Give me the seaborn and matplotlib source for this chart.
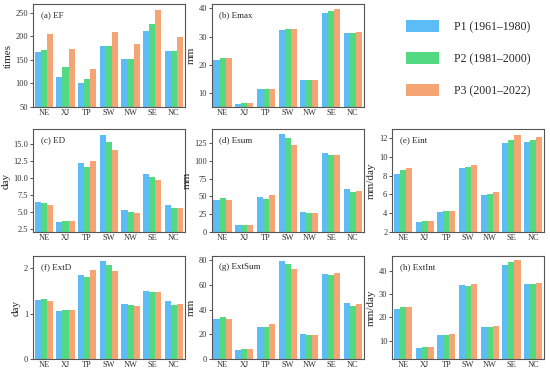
import pandas as pd
import seaborn as sns
import matplotlib.pyplot as plt
from matplotlib.patches import Patch

regions = ["NE", "XJ", "TP", "SW", "NW", "SE", "NC"]
periods = ["P1 (1961\u20131980)", "P2 (1981\u20132000)", "P3 (2001\u20132022)"]
colors = ["#5cbcf6", "#52d981", "#f5a474"]

# values per index: [P1, P2, P3] for each region
ef = [[166, 171, 204], [114, 135, 172], [101, 110, 130], [179, 180, 209],
      [151, 151, 184], [212, 226, 256], [169, 168, 198]]
emax = [[21.7, 22.5, 22.5], [6.2, 6.6, 6.6], [11.5, 11.5, 11.7], [32.3, 32.6, 32.6],
        [14.6, 14.6, 14.8], [38.5, 39.2, 39.6], [31.4, 31.4, 31.6]]
ed = [[6.5, 6.4, 6.1], [3.6, 3.8, 3.7], [12.3, 11.7, 12.55], [16.4, 15.4, 14.2],
      [5.3, 5.1, 4.85], [10.6, 10.2, 9.7], [6.15, 5.6, 5.6]]
esum = [[45.2, 47.1, 45.2], [9.3, 10.3, 10.3], [49, 47, 51.3], [138, 132.5, 122.7],
        [27.5, 26.6, 26.6], [111, 108.2, 108.2], [61, 56.4, 58.3]]
eint = [[8.15, 8.55, 8.75], [3.06, 3.13, 3.2], [4.16, 4.2, 4.2], [8.82, 8.93, 9.14],
        [5.93, 6.03, 6.28], [11.47, 11.82, 12.28], [11.6, 11.75, 12.1]]
extd = [[1.31, 1.33, 1.29], [1.07, 1.09, 1.09], [1.86, 1.81, 1.96], [2.16, 2.07, 1.95],
        [1.21, 1.2, 1.18], [1.51, 1.47, 1.47], [1.27, 1.2, 1.22]]
extsum = [[32.1, 33.7, 32.6], [7.3, 8.1, 8.1], [26.1, 25.6, 28], [79.5, 77.1, 72.5],
          [20.2, 19.7, 19.7], [68.7, 67.9, 69.8], [45, 42.6, 44.5]]
extint = [[23.6, 24.3, 24.3], [6.8, 7.2, 7.2], [12.3, 12.3, 12.75], [34.1, 33.6, 34.3],
          [15.8, 15.9, 16.4], [42.8, 44.1, 44.8], [34.6, 34.2, 34.9]]

panels = [
    ("(a) EF", "times", ef, (50, 268), [50, 100, 150, 200, 250]),
    ("(b) Emax", "mm", emax, (5.2, 41.5), [10, 20, 30, 40]),
    ("(c) ED", "day", ed, (2.15, 17.25), [2.5, 5.0, 7.5, 10.0, 12.5, 15.0]),
    ("(d) Esum", "mm", esum, (0, 145), [0, 25, 50, 75, 100, 125]),
    ("(e) Eint", "mm/day", eint, (2, 12.95), [2, 4, 6, 8, 10, 12]),
    ("(f) ExtD", "day", extd, (0, 2.27), [0, 1, 2]),
    ("(g) ExtSum", "mm", extsum, (0, 83.2), [0, 20, 40, 60, 80]),
    ("(h) ExtInt", "mm/day", extint, (2, 46.4), [10, 20, 30, 40]),
]

sns.set_style("ticks")
plt.rcParams['font.family'] = ['Liberation Serif', 'DejaVu Serif']

fig = plt.figure(figsize=(5.5, 3.74), dpi=100)

lefts = [0.06, 0.385, 0.713]
bottoms = [0.714, 0.380, 0.040]
w, h = 0.276, 0.275
slots = [(0, 0), (0, 1), (1, 0), (1, 1), (1, 2), (2, 0), (2, 1), (2, 2)]

for (title, ylab, vals, ylim, ticks), (r, c) in zip(panels, slots):
    ax = fig.add_axes([lefts[c], bottoms[r], w, h])
    rows = []
    for reg, v in zip(regions, vals):
        for p, x in zip(periods, v):
            rows.append({"region": reg, "period": p, "value": x})
    df = pd.DataFrame(rows)
    sns.barplot(data=df, x="region", y="value", hue="period", palette=colors,
                width=0.84, saturation=1, linewidth=0, legend=False, ax=ax)
    ax.set_ylim(*ylim)
    ax.set_yticks(ticks)
    ax.set_xlabel("")
    ax.set_ylabel(ylab, fontsize=8, labelpad=2)
    ax.tick_params(labelsize=6, length=2, width=0.6, pad=1.5, colors="#333333")
    ax.tick_params(axis="x", length=0)
    for s in ax.spines.values():
        s.set_color("#555555")
        s.set_linewidth(0.8)
    ax.text(0.05, 0.93, title, transform=ax.transAxes, fontsize=6.5,
            va="top", ha="left")

handles = [Patch(facecolor=col, edgecolor="none") for col in colors]
fig.legend(handles, periods, loc="upper left", bbox_to_anchor=(0.727, 0.962),
           frameon=False, fontsize=8.5, handlelength=2.8, handleheight=1.2,
           handletextpad=1.3, labelspacing=1.6, borderpad=0)

fig.savefig("out.png", dpi=100)
